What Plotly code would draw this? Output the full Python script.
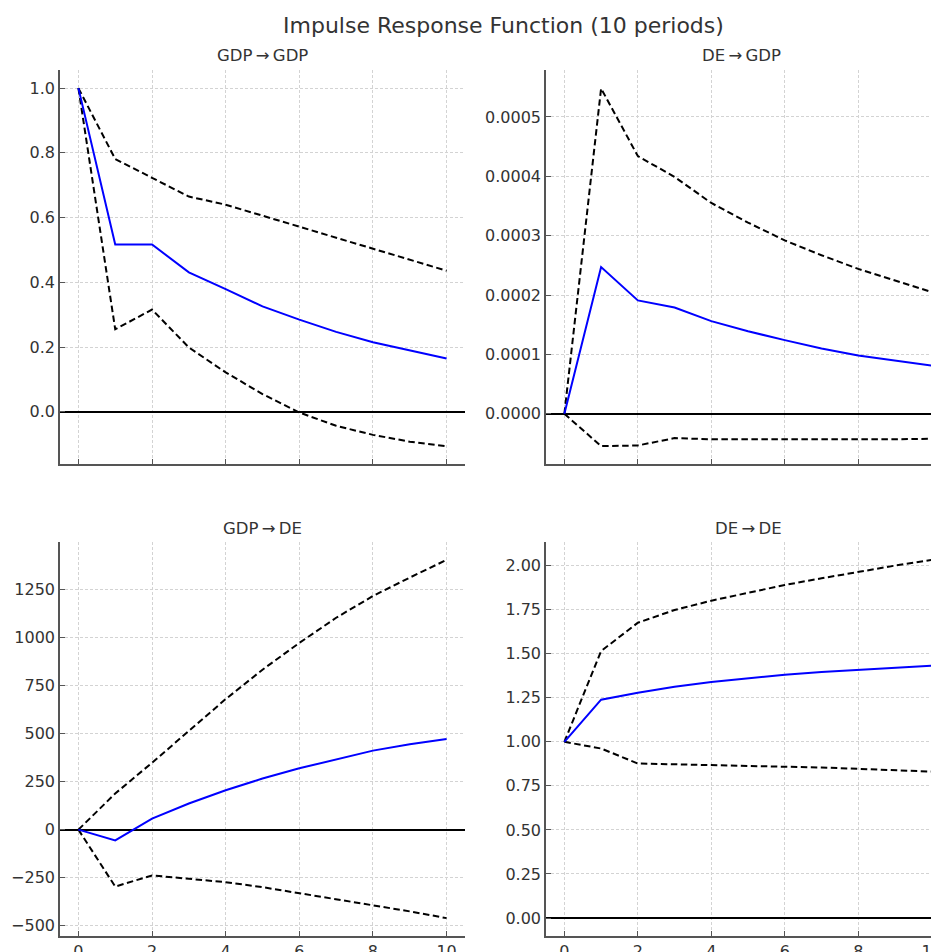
import plotly.graph_objects as go
from plotly.subplots import make_subplots

periods = list(range(11))

# GDP -> GDP
gdp_gdp_irf = [1.0, 0.517, 0.517, 0.431, 0.379, 0.326, 0.285, 0.247, 0.215, 0.189, 0.165]
gdp_gdp_up = [1.0, 0.781, 0.723, 0.665, 0.640, 0.606, 0.573, 0.539, 0.505, 0.470, 0.436]
gdp_gdp_lo = [1.0, 0.255, 0.316, 0.199, 0.122, 0.055, -0.002, -0.043, -0.071, -0.092, -0.106]

# DE -> GDP
de_gdp_irf = [0.0, 2.47e-4, 1.91e-4, 1.79e-4, 1.56e-4, 1.39e-4, 1.24e-4, 1.10e-4, 0.98e-4, 0.90e-4, 0.81e-4]
de_gdp_up = [0.0, 5.48e-4, 4.34e-4, 3.99e-4, 3.55e-4, 3.22e-4, 2.92e-4, 2.67e-4, 2.44e-4, 2.25e-4, 2.05e-4]
de_gdp_lo = [0.0, -0.545e-4, -0.534e-4, -0.41e-4, -0.43e-4, -0.43e-4, -0.44e-4, -0.44e-4, -0.44e-4, -0.43e-4, -0.42e-4]

# GDP -> DE
gdp_de_irf = [0, -56, 57, 136, 205, 266, 319, 366, 411, 444, 472]
gdp_de_up = [0, 188, 348, 514, 679, 832, 971, 1102, 1215, 1311, 1403]
gdp_de_lo = [0, -296, -238, -256, -273, -299, -331, -360, -395, -425, -460]

# DE -> DE
de_de_irf = [1.0, 1.239, 1.278, 1.313, 1.339, 1.360, 1.381, 1.396, 1.409, 1.420, 1.432]
de_de_up = [1.0, 1.515, 1.676, 1.748, 1.801, 1.847, 1.890, 1.928, 1.966, 2.000, 2.032]
de_de_lo = [1.0, 0.962, 0.877, 0.873, 0.869, 0.866, 0.862, 0.854, 0.847, 0.839, 0.831]

panel_titles = ["GDP\u2009\u2192\u2009GDP", "DE\u2009\u2192\u2009GDP", "GDP\u2009\u2192\u2009DE", "DE\u2009\u2192\u2009DE"]
main_title = "Impulse Response Function (10 periods)"

panels = [
    (1, 1, gdp_gdp_irf, gdp_gdp_up, gdp_gdp_lo),
    (1, 2, de_gdp_irf, de_gdp_up, de_gdp_lo),
    (2, 1, gdp_de_irf, gdp_de_up, gdp_de_lo),
    (2, 2, de_de_irf, de_de_up, de_de_lo),
]

# page body has an 8px default margin; figure sized to fill the rest of the window
OFF = 8
W, H = 939 - OFF, 952 - OFF
fig = make_subplots(rows=2, cols=2)

for r, c, irf, up, lo in panels:
    for ser in (up, lo):
        fig.add_trace(go.Scatter(x=periods, y=ser, mode="lines",
                                 line=dict(color="black", width=2, dash="6.5px,3.5px"),
                                 showlegend=False, hoverinfo="skip"), row=r, col=c)
    fig.add_trace(go.Scatter(x=periods, y=irf, mode="lines",
                             line=dict(color="#0000ff", width=2),
                             showlegend=False), row=r, col=c)


def px_x(x):
    return (x - OFF) / W


def px_y(y):
    return 1 - (y - OFF) / H


font_family = "DejaVu Sans"
xdom = {1: [px_x(60), px_x(465)], 2: [px_x(546), 1.0]}
ydom = {1: [px_y(464), px_y(70)], 2: [px_y(936), px_y(542)]}
xrng = {1: [-0.5, 10.5], 2: [-0.5, (939 - 564.7) / 36.7]}
yspec = {
    (1, 1): dict(range=[-0.161, 1.056], dtick=0.2, tick0=0, tickformat=".1f"),
    (1, 2): dict(range=[-0.846e-4, 5.79e-4], dtick=0.0001, tick0=0, tickformat=".4f"),
    (2, 1): dict(range=[-553, 1496], dtick=250, tick0=0, tickformat="d"),
    (2, 2): dict(range=[-0.102, 2.134], dtick=0.25, tick0=0, tickformat=".2f"),
}

common = dict(showline=True, linecolor="#555555", linewidth=1.6, mirror=False,
              ticks="inside", ticklen=5, tickwidth=1.2, tickcolor="#555555",
              showgrid=True, gridcolor="#d3d3d3", gridwidth=0.8, griddash="3px,2px",
              automargin=False, ticklabeloverflow="allow",
              tickfont=dict(family=font_family, size=16, color="#333333"))

for r, c, *_ in panels:
    fig.update_xaxes(domain=xdom[c], range=xrng[c], dtick=2, tick0=0,
                     showticklabels=(r == 2), zeroline=False, **common, row=r, col=c)
    fig.update_yaxes(domain=ydom[r], zeroline=True, zerolinecolor="black", zerolinewidth=1.8,
                     **yspec[(r, c)], **common, row=r, col=c)

annotations = [
    dict(text=main_title, x=px_x(504), y=px_y(25), xref="paper", yref="paper",
         showarrow=False, xanchor="center", yanchor="middle",
         font=dict(family=font_family, size=22, color="#333333")),
]
title_pos = [(262.5, 56), (741, 56), (262.5, 528), (748, 528)]
for t, (px, py) in zip(panel_titles, title_pos):
    annotations.append(dict(text=t, x=px_x(px), y=px_y(py), xref="paper", yref="paper",
                            showarrow=False, xanchor="center", yanchor="middle",
                            font=dict(family=font_family, size=16.5, color="#333333")))

fig.update_layout(width=W, height=H, margin=dict(l=0, r=0, t=0, b=0, autoexpand=False),
                  paper_bgcolor="white", plot_bgcolor="white",
                  annotations=annotations, font=dict(family=font_family))

fig.write_html("out.html")
